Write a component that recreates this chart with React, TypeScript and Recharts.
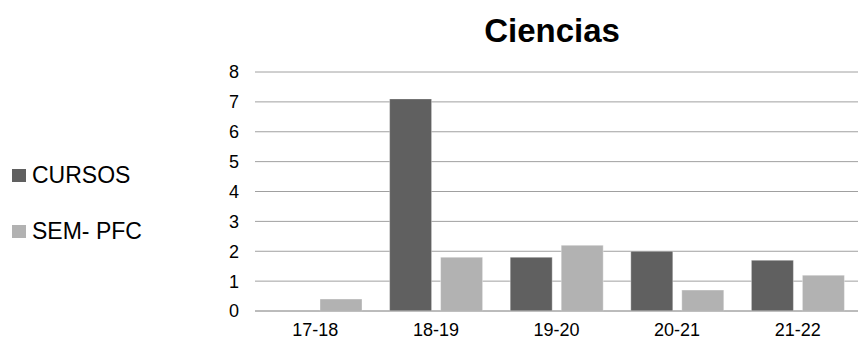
import { BarChart, Bar, XAxis, YAxis, CartesianGrid } from "recharts";

const YEARS = ["17-18", "18-19", "19-20", "20-21", "21-22"];
const CURSOS = [0, 7.1, 1.8, 2.0, 1.7];
const SEM_PFC = [0.4, 1.8, 2.2, 0.7, 1.2];
const Y_TICKS = [0, 1, 2, 3, 4, 5, 6, 7, 8];

const SERIES = [
  { key: "cursos", name: "CURSOS", color: "#606060" },
  { key: "semPfc", name: "SEM- PFC", color: "#b2b2b2" },
];

const FONT = "'Liberation Sans', Arial, sans-serif";

const data = YEARS.map((year, i) => ({
  year,
  cursos: CURSOS[i],
  semPfc: SEM_PFC[i],
}));

export default function App() {
  return (
    <div
      style={{
        position: "absolute",
        left: 0,
        top: 0,
        width: 859,
        height: 342,
        background: "#fff",
        fontFamily: FONT,
      }}
    >
      <div
        style={{
          position: "absolute",
          left: 452,
          width: 200,
          top: 11,
          textAlign: "center",
          fontSize: 33,
          fontWeight: "bold",
          color: "#000",
          lineHeight: "40px",
        }}
      >
        Ciencias
      </div>

      {SERIES.map((s, i) => (
        <div
          key={s.key}
          style={{
            position: "absolute",
            left: 12,
            top: 162 + i * 56,
            display: "flex",
            alignItems: "center",
            fontSize: 23,
            color: "#000",
            lineHeight: "26px",
          }}
        >
          <span
            style={{
              display: "inline-block",
              width: 14,
              height: 13,
              background: s.color,
              marginRight: 6,
            }}
          />
          {s.name}
        </div>
      ))}

      <BarChart
        width={859}
        height={342}
        data={data}
        margin={{ top: 72, right: 1, bottom: 0, left: 0 }}
        barCategoryGap={14}
        barGap={9}
        style={{ position: "absolute", left: 0, top: 0 }}
      >
        <CartesianGrid vertical={false} stroke="#a0a0a0" />
        <YAxis
          width={255}
          domain={[0, 8]}
          ticks={Y_TICKS}
          axisLine={false}
          tickLine={false}
          tickSize={0}
          tickMargin={16}
          tick={{ fill: "#000", fontSize: 18, fontFamily: FONT }}
        />
        <XAxis
          dataKey="year"
          height={31}
          axisLine={{ stroke: "#a8a8a8" }}
          tickLine={false}
          tickSize={0}
          tickMargin={12}
          tick={{ fill: "#000", fontSize: 18, fontFamily: FONT }}
        />
        {SERIES.map((s) => (
          <Bar
            key={s.key}
            dataKey={s.key}
            name={s.name}
            fill={s.color}
            stroke="#ffffff"
            strokeOpacity={0.35}
            isAnimationActive={false}
          />
        ))}
      </BarChart>
    </div>
  );
}
